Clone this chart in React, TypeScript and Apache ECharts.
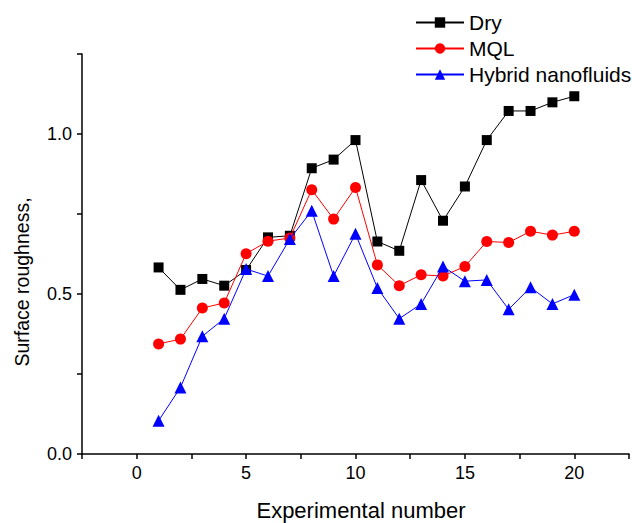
import React, { useEffect, useRef } from "react";
import * as echarts from "echarts";

const experiments = [1, 2, 3, 4, 5, 6, 7, 8, 9, 10, 11, 12, 13, 14, 15, 16, 17, 18, 19, 20];
const dry = [0.583, 0.513, 0.547, 0.526, 0.575, 0.677, 0.682, 0.893, 0.92, 0.981, 0.664, 0.635, 0.856, 0.729, 0.836, 0.981, 1.072, 1.072, 1.099, 1.118];
const mql = [0.344, 0.359, 0.456, 0.472, 0.626, 0.665, 0.675, 0.826, 0.734, 0.833, 0.591, 0.526, 0.56, 0.556, 0.586, 0.664, 0.661, 0.696, 0.684, 0.696];
const hybrid = [0.104, 0.208, 0.368, 0.423, 0.578, 0.556, 0.672, 0.76, 0.556, 0.688, 0.519, 0.423, 0.469, 0.586, 0.54, 0.544, 0.452, 0.521, 0.469, 0.498];
const seriesNames = ["Dry", "MQL", "Hybrid nanofluids"];
const xTitle = "Experimental number";
const yTitle = "Surface roughness,";

const FONT = "Liberation Sans, Arial, sans-serif";

export default function App() {
  const ref = useRef<HTMLDivElement>(null);
  useEffect(() => {
    if (!ref.current) return;
    const chart = echarts.init(ref.current, null, { renderer: "svg" });
    const pair = (arr: number[]) => experiments.map((x, i) => [x, arr[i]]);
    chart.setOption({
      animation: false,
      backgroundColor: "#ffffff",
      grid: { left: 82, top: 54, right: 3, bottom: 69, containLabel: false },
      legend: {
        orient: "vertical",
        left: 410,
        top: 7,
        itemWidth: 48,
        itemHeight: 13,
        itemGap: 5,
        textStyle: { fontFamily: FONT, fontSize: 21, color: "#000", lineHeight: 21 },
        data: seriesNames,
      },
      xAxis: {
        type: "value",
        min: -2.5,
        max: 22.5,
        interval: 2.5,
        splitLine: { show: false },
        axisLine: { show: true, onZero: false, lineStyle: { color: "#000", width: 1.5 } },
        axisTick: { show: true, inside: false, length: 5, lineStyle: { color: "#000", width: 1.5 } },
        axisLabel: {
          fontFamily: FONT,
          fontSize: 18,
          color: "#000",
          margin: 10,
          showMinLabel: true,
          showMaxLabel: true,
          formatter: (v: number) => (Math.abs(v % 5) < 1e-9 ? String(v) : ""),
        },
      },
      yAxis: {
        type: "value",
        min: 0,
        max: 1.25,
        interval: 0.25,
        splitLine: { show: false },
        axisLine: { show: true, onZero: false, lineStyle: { color: "#000", width: 1.5 } },
        axisTick: { show: true, inside: false, length: 5, lineStyle: { color: "#000", width: 1.5 } },
        axisLabel: {
          fontFamily: FONT,
          fontSize: 18,
          color: "#000",
          margin: 10,
          formatter: (v: number) => (Math.abs((v * 2) % 1) < 1e-9 ? v.toFixed(1) : ""),
        },
      },
      graphic: [
        {
          type: "text",
          x: 361,
          y: 510,
          style: { text: xTitle, fontFamily: FONT, fontSize: 22, fill: "#000", align: "center", verticalAlign: "middle" },
        },
        {
          type: "text",
          x: 21.5,
          y: 282,
          rotation: Math.PI / 2,
          style: { text: yTitle, fontFamily: FONT, fontSize: 19.5, fill: "#000", align: "center", verticalAlign: "middle" },
        },
      ],
      series: [
        {
          name: seriesNames[0],
          type: "line",
          data: pair(dry),
          symbol: "rect",
          symbolSize: 10,
          itemStyle: { color: "#000000" },
          lineStyle: { color: "#000000", width: 1 },
          z: 3,
        },
        {
          name: seriesNames[1],
          type: "line",
          data: pair(mql),
          symbol: "circle",
          symbolSize: 11,
          itemStyle: { color: "#ff0000" },
          lineStyle: { color: "#ff0000", width: 1 },
          z: 4,
        },
        {
          name: seriesNames[2],
          type: "line",
          data: pair(hybrid),
          symbol: "triangle",
          symbolSize: 12,
          itemStyle: { color: "#0000ff" },
          lineStyle: { color: "#0000ff", width: 1 },
          z: 5,
        },
      ],
    });
    return () => chart.dispose();
  }, []);
  return <div ref={ref} style={{ width: 632, height: 523, position: "absolute", left: 0, top: 0 }} />;
}
